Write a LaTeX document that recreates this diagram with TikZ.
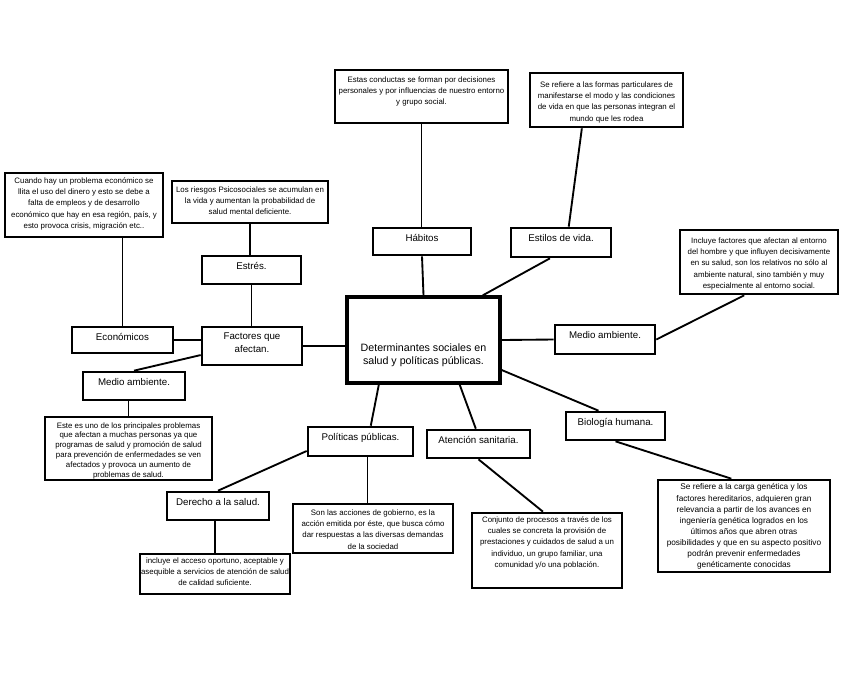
\documentclass[tikz,border=0pt]{standalone}
\usepackage{fontspec}
\setmainfont{Liberation Sans}
\usepackage{tikz}

\newlength{\pxu}\setlength{\pxu}{0.75pt}
\newcommand{\labfont}{\fontsize{7.3}{9.4}\selectfont}
\newcommand{\descfont}{\fontsize{5.9}{8.5}\selectfont}
\newcommand{\cenfont}{\fontsize{8}{9.4}\selectfont}
\newcommand{\bx}[4]{\parbox[c][#2\pxu][t]{#1\pxu}{\centering\vspace*{#3\pxu}\strut #4\par}}

\tikzset{box/.style={draw, line width=2pt, inner sep=0pt, font=\labfont},
  desc/.style={box, font=\descfont},
  link/.style={line width=1.4pt}}

\begin{document}
\begin{tikzpicture}[x=0.75pt,y=-0.75pt]
\useasboundingbox (0,0) rectangle (848,683);
% centro
\node[box, line width=2.5pt, font=\cenfont] (cen) at (423.5,340) {\bx{153}{86}{46}{Determinantes sociales en\\ salud y políticas públicas.}};
% ramas
\node[box] (hab) at (422,241.5) {\bx{98}{27}{4.7}{Hábitos}};
\node[box] (est) at (561,242.5) {\bx{100}{29}{5}{Estilos de vida.}};
\node[box] (mar) at (605,339.5) {\bx{100}{29}{4.7}{Medio ambiente.}};
\node[box] (bio) at (615.5,426) {\bx{99}{28}{4.7}{Biología humana.}};
\node[box] (ate) at (478.5,444) {\bx{103}{28}{4.7}{Atención sanitaria.}};
\node[box] (pol) at (360.5,441.5) {\bx{105}{29}{4.7}{Políticas públicas.}};
\node[box] (der) at (218,506) {\bx{102}{28}{4.7}{Derecho a la salud.}};
\node[box] (fac) at (252,346) {\bx{100}{38}{3.7}{Factores que\\ afectan.}};
\node[box] (eco) at (122.5,340) {\bx{101}{26}{4.5}{Económicos}};
\node[box] (mal) at (134,386) {\bx{102}{28}{4.7}{Medio ambiente.}};
\node[box] (str) at (251.5,270) {\bx{99}{28}{4.7}{Estrés.}};
% descripciones
\node[desc] (habd) at (421.5,96.5) {\bx{173}{53}{4.2}{Estas conductas se forman por decisiones\\ personales y por influencias de nuestro entorno\\ y grupo social.}};
\node[desc] (estd) at (606.5,100) {\bx{153}{54}{6.2}{Se refiere a las formas particulares de\\ manifestarse el modo y las condiciones\\ de vida en que las personas integran el\\ mundo que les rodea}};
\node[desc] (mard) at (759,262) {\bx{158}{64}{5.2}{Incluye factores que afectan al entorno\\ del hombre y que influyen decisivamente\\ en su salud, son los relativos no sólo al\\ ambiente natural, sino también y muy\\ especialmente al entorno social.}};
\node[desc, font=\fontsize{6.2}{8.3}\selectfont] (biod) at (744,526) {\bx{172}{92}{2.2}{Se refiere a la carga genética y los\\ factores hereditarios, adquieren gran\\ relevancia a partir de los avances en\\ ingeniería genética logrados en los\\ últimos años que abren otras\\ posibilidades y que en su aspecto positivo\\ podrán prevenir enfermedades\\ genéticamente conocidas}};
\node[desc] (ated) at (547,550.5) {\bx{150}{75}{1.2}{Conjunto de procesos a través de los\\ cuales se concreta la provisión de\\ prestaciones y cuidados de salud a un\\ individuo, un grupo familiar, una\\ comunidad y/o una población.}};
\node[desc] (pold) at (373,528.5) {\bx{160}{49}{3.2}{Son las acciones de gobierno, es la\\ acción emitida por éste, que busca cómo\\ dar respuestas a las diversas demandas\\ de la sociedad}};
\node[desc] (derd) at (215,574) {\bx{150}{40}{1.2}{incluye el acceso oportuno, aceptable y\\ asequible a servicios de atención de salud\\ de calidad suficiente.}};
\node[desc, font=\fontsize{5.9}{7.4}\selectfont] (mald) at (128.5,448.5) {\bx{167}{63}{4.1}{Este es uno de los principales problemas\\ que afectan a muchas personas ya que\\ programas de salud y promoción de salud\\ para prevención de enfermedades se ven\\ afectados y provoca un aumento de\\ problemas de salud.}};
\node[desc] (strd) at (250,202) {\bx{156}{42}{3.2}{Los riesgos Psicosociales se acumulan en\\ la vida y aumentan la probabilidad de\\ salud mental deficiente.}};
\node[desc] (ecod) at (84,205) {\bx{158}{64}{2.2}{Cuando hay un problema económico se\\ llita el uso del dinero y esto se debe a\\ falta de empleos y de desarrollo\\ económico que hay en esa región, país, y\\ esto provoca crisis, migración etc..}};
% conexiones
\draw[link] (cen.north) -- (hab.south);
\draw[link] (habd.south) -- (habd.south |- hab.north);
\draw[link] (cen.37) -- (est.235);
\draw[link] (est.64) -- (estd.229);
\draw[link] (cen.east) -- (mar.west);
\draw[link] (mar.east) -- (mard.246);
\draw[link] (cen.339) -- (bio.138);
\draw[link] (bio.south) -- (biod.105);
\draw[link] (cen.309) -- (ate.100);
\draw[link] (ate.south) -- (ated.96);
\draw[link] (cen.225) -- (pol.57);
\draw[link] (pol.294) -- (pol.294 |- pold.north);
\draw[link] (pol.190) -- (der.north);
\draw[link] (derd.north) -- (derd.north |- der.south);
\draw[link] (fac.east) -- (fac.east -| cen.west);
\draw[link] (fac.173) -- (fac.173 -| eco.east);
\draw[link] (fac.190) -- (mal.north);
\draw[link] (mald.north) -- (mald.north |- mal.south);
\draw[link] (str.south) -- (str.south |- fac.north);
\draw[link] (strd.south) -- (strd.south |- str.north);
\draw[link] (eco.north) -- (eco.north |- ecod.south);
\end{tikzpicture}
\end{document}
